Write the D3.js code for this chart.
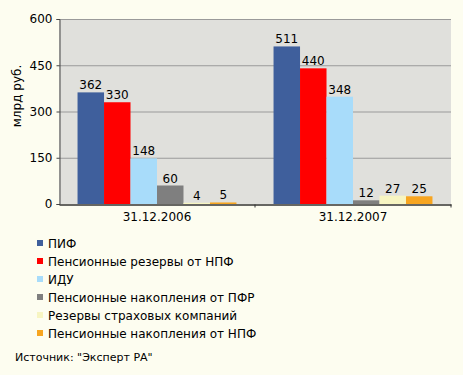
<!DOCTYPE html>
<html>
<head>
<meta charset="utf-8">
<script src="https://cdn.jsdelivr.net/npm/d3@7"></script>
<style>
  body { margin: 0; background: #fdfdf0; }
  svg text { font-family: "DejaVu Sans", Verdana, sans-serif; fill: #000; }
</style>
</head>
<body>
<svg id="chart" width="463" height="375"></svg>
<script>
// dates on the x axis
var categories = ["31.12.2006", "31.12.2007"];
// series names, in legend order
var seriesNames = [
	"ПИФ",
	"Пенсионные резервы от НПФ",
	"ИДУ",
	"Пенсионные накопления от ПФР",
	"Резервы страховых компаний",
	"Пенсионные накопления от НПФ"
];
// values, млрд руб., one array per date
var values2006 = [362, 330, 148, 60, 4, 5];
var values2007 = [511, 440, 348, 12, 27, 25];
var yTicks = [0, 150, 300, 450, 600];
var seriesColors = ["#3f5f9c", "#ff0000", "#a8dcfa", "#7f7f7f", "#f7f5c2", "#f7a520"];

(function() {
	var svg = d3.select("#chart");
	var plotLeft = 59, plotRight = 451, plotTop = 19, plotBottom = 204;

	var x0 = d3.scaleBand().domain(categories).range([plotLeft, plotRight]).padding(0);
	var x1 = d3.scaleBand().domain(d3.range(seriesNames.length))
		.range([0, x0.bandwidth()]).paddingOuter(0.7).paddingInner(0);
	var y = d3.scaleLinear().domain([0, 600]).range([plotBottom, plotTop]);

	// plot background
	svg.append("rect")
		.attr("x", plotLeft).attr("y", plotTop)
		.attr("width", plotRight - plotLeft).attr("height", plotBottom - plotTop)
		.attr("fill", "#e0e0dc");

	// gridlines
	svg.selectAll("line.grid")
		.data(yTicks.filter(function(d) { return d > 0; }))
		.enter().append("line")
		.attr("class", "grid")
		.attr("x1", plotLeft).attr("x2", plotRight)
		.attr("y1", function(d) { return y(d) + 0.5; })
		.attr("y2", function(d) { return y(d) + 0.5; })
		.attr("stroke", "#9a9a9a");

	var data = [values2006, values2007];
	var groups = svg.selectAll("g.cat")
		.data(data)
		.enter().append("g")
		.attr("class", "cat")
		.attr("transform", function(d, i) { return "translate(" + x0(categories[i]) + ",0)"; });

	groups.selectAll("rect")
		.data(function(d) { return d; })
		.enter().append("rect")
		.attr("x", function(d, i) { return x1(i); })
		.attr("width", x1.bandwidth())
		.attr("y", function(d) { return y(d); })
		.attr("height", function(d) { return plotBottom - y(d); })
		.attr("fill", function(d, i) { return seriesColors[i]; });

	groups.selectAll("text")
		.data(function(d) { return d; })
		.enter().append("text")
		.attr("x", function(d, i) { return x1(i) + x1.bandwidth() / 2; })
		.attr("y", function(d) { return y(d) - 3; })
		.attr("text-anchor", "middle")
		.style("font-size", "12px")
		.text(function(d) { return d; });

	// y axis
	var yAxis = d3.axisLeft(y).tickValues(yTicks).tickSize(3).tickPadding(4);
	var gy = svg.append("g").attr("transform", "translate(" + (plotLeft + 0.5) + ",0)").call(yAxis);
	gy.selectAll("text").style("font-size", "12px");
	gy.select(".domain").attr("stroke", "#444");
	gy.selectAll(".tick line").attr("stroke", "#444");

	// x axis
	var xAxis = d3.axisBottom(x0).tickSize(0).tickPadding(8);
	var gx = svg.append("g").attr("transform", "translate(0," + (plotBottom + 0.5) + ")").call(xAxis);
	gx.selectAll("text").style("font-size", "12px");
	gx.select(".domain").attr("stroke", "#333").attr("stroke-width", 1.5);
	gx.selectAll("line.sep")
		.data(categories)
		.enter().append("line")
		.attr("class", "sep")
		.attr("x1", function(d) { return x0(d) + x0.bandwidth(); })
		.attr("x2", function(d) { return x0(d) + x0.bandwidth(); })
		.attr("y1", 0).attr("y2", 3)
		.attr("stroke", "#333");

	// y title
	svg.append("text")
		.attr("transform", "translate(21,96) rotate(-90)")
		.attr("text-anchor", "middle")
		.style("font-size", "12px")
		.text("млрд руб.");

	// legend
	var legend = svg.selectAll("g.legend")
		.data(seriesNames)
		.enter().append("g")
		.attr("class", "legend")
		.attr("transform", function(d, i) { return "translate(37," + (243 + i * 18) + ")"; });
	legend.append("rect")
		.attr("x", 0).attr("y", -3)
		.attr("width", 6).attr("height", 6)
		.attr("fill", function(d, i) { return seriesColors[i]; });
	legend.append("text")
		.attr("x", 11).attr("y", 4.5)
		.style("font-size", "12px")
		.text(function(d) { return d; });

	svg.append("text")
		.attr("x", 15).attr("y", 361)
		.style("font-size", "11px")
		.text("Источник: \"Эксперт РА\"");
})();
</script>
</body>
</html>
